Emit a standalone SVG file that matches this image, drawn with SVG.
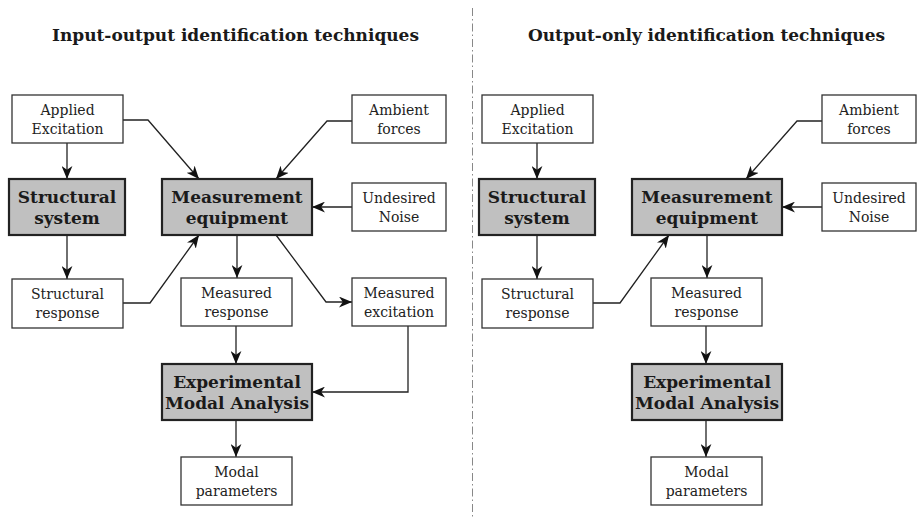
<svg xmlns="http://www.w3.org/2000/svg" width="921" height="518" viewBox="0 0 921 518">
<style>
.box{fill:#fff;stroke:#333;stroke-width:1.3}
.gbox{fill:#c0c0c0;stroke:#222;stroke-width:2.2}
.t{font-family:"DejaVu Serif","Liberation Serif",serif;font-size:14px;fill:#222;text-anchor:middle}
.b{font-family:"DejaVu Serif","Liberation Serif",serif;font-size:17px;font-weight:bold;fill:#1a1a1a;text-anchor:middle}
.title{font-family:"DejaVu Serif","Liberation Serif",serif;font-size:17px;font-weight:bold;fill:#1a1a1a;text-anchor:middle}
.e{fill:none;stroke:#222;stroke-width:1.3;marker-end:url(#arr)}
.div{stroke:#888;stroke-width:1;stroke-dasharray:8,3,1.5,3}
</style>
<defs>
<marker id="arr" markerUnits="userSpaceOnUse" viewBox="0 0 12 10" refX="12" refY="5" markerWidth="13" markerHeight="11" orient="auto">
<path d="M0,0 L12,5 L0,10 L3.5,5 Z" fill="#111"/>
</marker>
</defs>
<line class="div" x1="472.5" y1="8" x2="472.5" y2="518"/>
<text class="title" x="235.5" y="41" textLength="367">Input-output identification techniques</text>
<text class="title" x="706.5" y="41" textLength="357">Output-only identification techniques</text>
<g id="edges">
<path class="e" d="M67,143 V179"/>
<path class="e" d="M123,120 H148 L199,179"/>
<path class="e" d="M352,121 H327 L276,179"/>
<path class="e" d="M352,207 H312"/>
<path class="e" d="M67,235 V279"/>
<path class="e" d="M123,303 H150 L199,235"/>
<path class="e" d="M237,235 V278"/>
<path class="e" d="M276,235 L326,302 H352"/>
<path class="e" d="M236,326 V364"/>
<path class="e" d="M408,326 V392 H312"/>
<path class="e" d="M236,420 V457"/>
<path class="e" d="M537,143 V179"/>
<path class="e" d="M822,121 H797 L746,179"/>
<path class="e" d="M822,207 H782"/>
<path class="e" d="M537,235 V279"/>
<path class="e" d="M593,303 H620 L669,235"/>
<path class="e" d="M707,235 V278"/>
<path class="e" d="M706,326 V364"/>
<path class="e" d="M706,420 V457"/>
</g>
<g id="L_applied"><rect class="box" x="12" y="95" width="111" height="48"/><text class="t" x="67.5" y="115">Applied</text><text class="t" x="67.5" y="134">Excitation</text></g>
<g id="L_struct"><rect class="gbox" x="9" y="179" width="116" height="56"/><text class="b" x="67" y="203">Structural</text><text class="b" x="67" y="224">system</text></g>
<g id="L_sresp"><rect class="box" x="12" y="279" width="111" height="49"/><text class="t" x="67.5" y="299">Structural</text><text class="t" x="67.5" y="318">response</text></g>
<g id="L_meas"><rect class="gbox" x="162" y="179" width="150" height="56"/><text class="b" x="237" y="203">Measurement</text><text class="b" x="237" y="224">equipment</text></g>
<g id="L_ambient"><rect class="box" x="352" y="95" width="94" height="48"/><text class="t" x="399" y="115">Ambient</text><text class="t" x="399" y="134">forces</text></g>
<g id="L_noise"><rect class="box" x="352" y="183" width="94" height="48"/><text class="t" x="399" y="203">Undesired</text><text class="t" x="399" y="222">Noise</text></g>
<g id="L_mresp"><rect class="box" x="181" y="278" width="111" height="48"/><text class="t" x="236.5" y="298">Measured</text><text class="t" x="236.5" y="317">response</text></g>
<g id="L_mexc"><rect class="box" x="352" y="278" width="94" height="48"/><text class="t" x="399" y="298">Measured</text><text class="t" x="399" y="317">excitation</text></g>
<g id="L_ema"><rect class="gbox" x="162" y="364" width="150" height="56"/><text class="b" x="237" y="388">Experimental</text><text class="b" x="237" y="409">Modal Analysis</text></g>
<g id="L_modal"><rect class="box" x="181" y="457" width="111" height="48"/><text class="t" x="236.5" y="477">Modal</text><text class="t" x="236.5" y="496">parameters</text></g>
<g id="R_applied"><rect class="box" x="482" y="95" width="111" height="48"/><text class="t" x="537.5" y="115">Applied</text><text class="t" x="537.5" y="134">Excitation</text></g>
<g id="R_struct"><rect class="gbox" x="479" y="179" width="116" height="56"/><text class="b" x="537" y="203">Structural</text><text class="b" x="537" y="224">system</text></g>
<g id="R_sresp"><rect class="box" x="482" y="279" width="111" height="49"/><text class="t" x="537.5" y="299">Structural</text><text class="t" x="537.5" y="318">response</text></g>
<g id="R_meas"><rect class="gbox" x="632" y="179" width="150" height="56"/><text class="b" x="707" y="203">Measurement</text><text class="b" x="707" y="224">equipment</text></g>
<g id="R_ambient"><rect class="box" x="822" y="95" width="94" height="48"/><text class="t" x="869" y="115">Ambient</text><text class="t" x="869" y="134">forces</text></g>
<g id="R_noise"><rect class="box" x="822" y="183" width="94" height="48"/><text class="t" x="869" y="203">Undesired</text><text class="t" x="869" y="222">Noise</text></g>
<g id="R_mresp"><rect class="box" x="651" y="278" width="111" height="48"/><text class="t" x="706.5" y="298">Measured</text><text class="t" x="706.5" y="317">response</text></g>
<g id="R_ema"><rect class="gbox" x="632" y="364" width="150" height="56"/><text class="b" x="707" y="388">Experimental</text><text class="b" x="707" y="409">Modal Analysis</text></g>
<g id="R_modal"><rect class="box" x="651" y="457" width="111" height="48"/><text class="t" x="706.5" y="477">Modal</text><text class="t" x="706.5" y="496">parameters</text></g>
</svg>
